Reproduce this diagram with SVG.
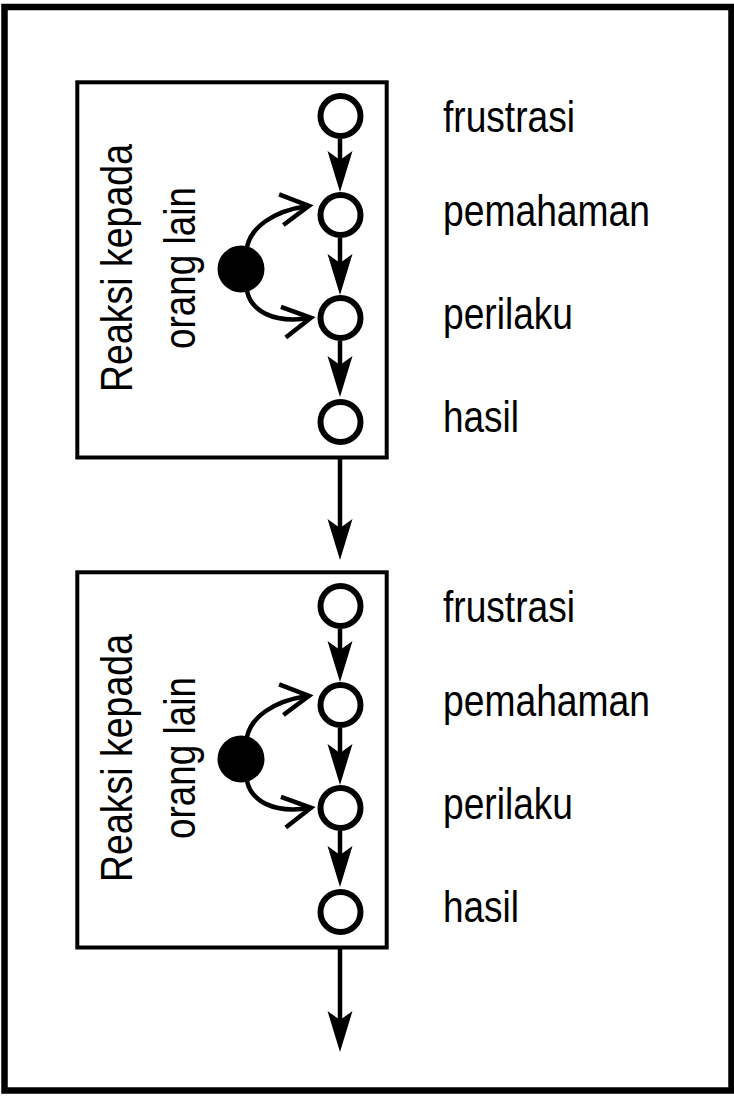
<svg xmlns="http://www.w3.org/2000/svg" width="734" height="1096" viewBox="0 0 734 1096">
  <style>
    .frame { fill: none; stroke: #000; stroke-width: 6.5; }
    .box { fill: #fff; stroke: #000; stroke-width: 4; }
    .step { fill: #fff; stroke: #000; stroke-width: 6; }
    .source { fill: #000; }
    .flow { fill: none; stroke: #000; stroke-width: 4.5; marker-end: url(#head); }
    .branch { fill: none; stroke: #000; stroke-width: 4.5; marker-end: url(#vee); }
    .label { font-family: "Liberation Sans", Arial, sans-serif; font-size: 44px; fill: #000; }
    .side { text-anchor: middle; }
  </style>
  <defs>
    <!-- filled barbed head for the straight flow arrows -->
    <marker id="head" markerUnits="userSpaceOnUse" markerWidth="44" markerHeight="30" viewBox="0 -15 44 30" refX="31" refY="0" orient="auto">
      <path d="M0,-12.5 L41,0 L0,12.5 L9,0 Z" fill="#000"/>
    </marker>
    <!-- open head for the curved branch arrows -->
    <marker id="vee" markerUnits="userSpaceOnUse" markerWidth="40" markerHeight="40" viewBox="-4 -20 40 40" refX="27" refY="0" orient="auto">
      <path d="M0,-15.5 L28,0 L0,15.5" fill="none" stroke="#000" stroke-width="4.5" stroke-linejoin="miter"/>
    </marker>
  </defs>

  <rect class="frame" x="4.5" y="7" width="727" height="1083.5"/>

  <!-- first cycle -->
  <g id="cycle1">
    <rect id="box1" class="box" x="77.3" y="82.3" width="309.4" height="375.2"/>
    <g id="side1">
      <text class="label side" transform="translate(131.5,268) rotate(-90)" textLength="248" lengthAdjust="spacingAndGlyphs">Reaksi kepada</text>
      <text class="label side" transform="translate(195,268) rotate(-90)" textLength="162" lengthAdjust="spacingAndGlyphs">orang lain</text>
    </g>
    <g id="c1-frustrasi"><circle class="step" cx="340.5" cy="116" r="20"/><text class="label" x="443" y="131.5" textLength="132" lengthAdjust="spacingAndGlyphs">frustrasi</text></g>
    <g id="c1-pemahaman"><circle class="step" cx="340.5" cy="215" r="20"/><text class="label" x="443" y="226" textLength="207" lengthAdjust="spacingAndGlyphs">pemahaman</text></g>
    <g id="c1-perilaku"><circle class="step" cx="340.5" cy="318" r="20"/><text class="label" x="443" y="329" textLength="130" lengthAdjust="spacingAndGlyphs">perilaku</text></g>
    <g id="c1-hasil"><circle class="step" cx="340.5" cy="422" r="20"/><text class="label" x="443" y="432" textLength="76" lengthAdjust="spacingAndGlyphs">hasil</text></g>
    <g id="c1-source"><circle class="source" cx="241" cy="269" r="23.5"/></g>
  </g>

  <!-- second cycle -->
  <g id="cycle2">
    <rect id="box2" class="box" x="77.3" y="572.3" width="309.4" height="375.2"/>
    <g id="side2">
      <text class="label side" transform="translate(131.5,758) rotate(-90)" textLength="248" lengthAdjust="spacingAndGlyphs">Reaksi kepada</text>
      <text class="label side" transform="translate(195,758) rotate(-90)" textLength="162" lengthAdjust="spacingAndGlyphs">orang lain</text>
    </g>
    <g id="c2-frustrasi"><circle class="step" cx="340.5" cy="606" r="20"/><text class="label" x="443" y="621.5" textLength="132" lengthAdjust="spacingAndGlyphs">frustrasi</text></g>
    <g id="c2-pemahaman"><circle class="step" cx="340.5" cy="705" r="20"/><text class="label" x="443" y="716" textLength="207" lengthAdjust="spacingAndGlyphs">pemahaman</text></g>
    <g id="c2-perilaku"><circle class="step" cx="340.5" cy="808" r="20"/><text class="label" x="443" y="819" textLength="130" lengthAdjust="spacingAndGlyphs">perilaku</text></g>
    <g id="c2-hasil"><circle class="step" cx="340.5" cy="912" r="20"/><text class="label" x="443" y="922" textLength="76" lengthAdjust="spacingAndGlyphs">hasil</text></g>
    <g id="c2-source"><circle class="source" cx="241" cy="759" r="23.5"/></g>
  </g>

  <!-- connectors -->
  <g id="connectors">
    <line class="flow" x1="340" y1="139" x2="340" y2="182"/>
    <line class="flow" x1="340" y1="238" x2="340" y2="285"/>
    <line class="flow" x1="340" y1="341" x2="340" y2="387"/>
    <line class="flow" x1="340" y1="459" x2="340" y2="550"/>
    <line class="flow" x1="340" y1="629" x2="340" y2="672"/>
    <line class="flow" x1="340" y1="728" x2="340" y2="775"/>
    <line class="flow" x1="340" y1="831" x2="340" y2="877"/>
    <line class="flow" x1="340" y1="949" x2="340" y2="1042"/>
    <path class="branch" d="M247,247 C251,228 272,211 308,206"/>
    <path class="branch" d="M247,291 C251,310 272,324 310,318"/>
    <path class="branch" d="M247,737 C251,718 272,701 308,696"/>
    <path class="branch" d="M247,781 C251,800 272,814 310,808"/>
  </g>
</svg>
